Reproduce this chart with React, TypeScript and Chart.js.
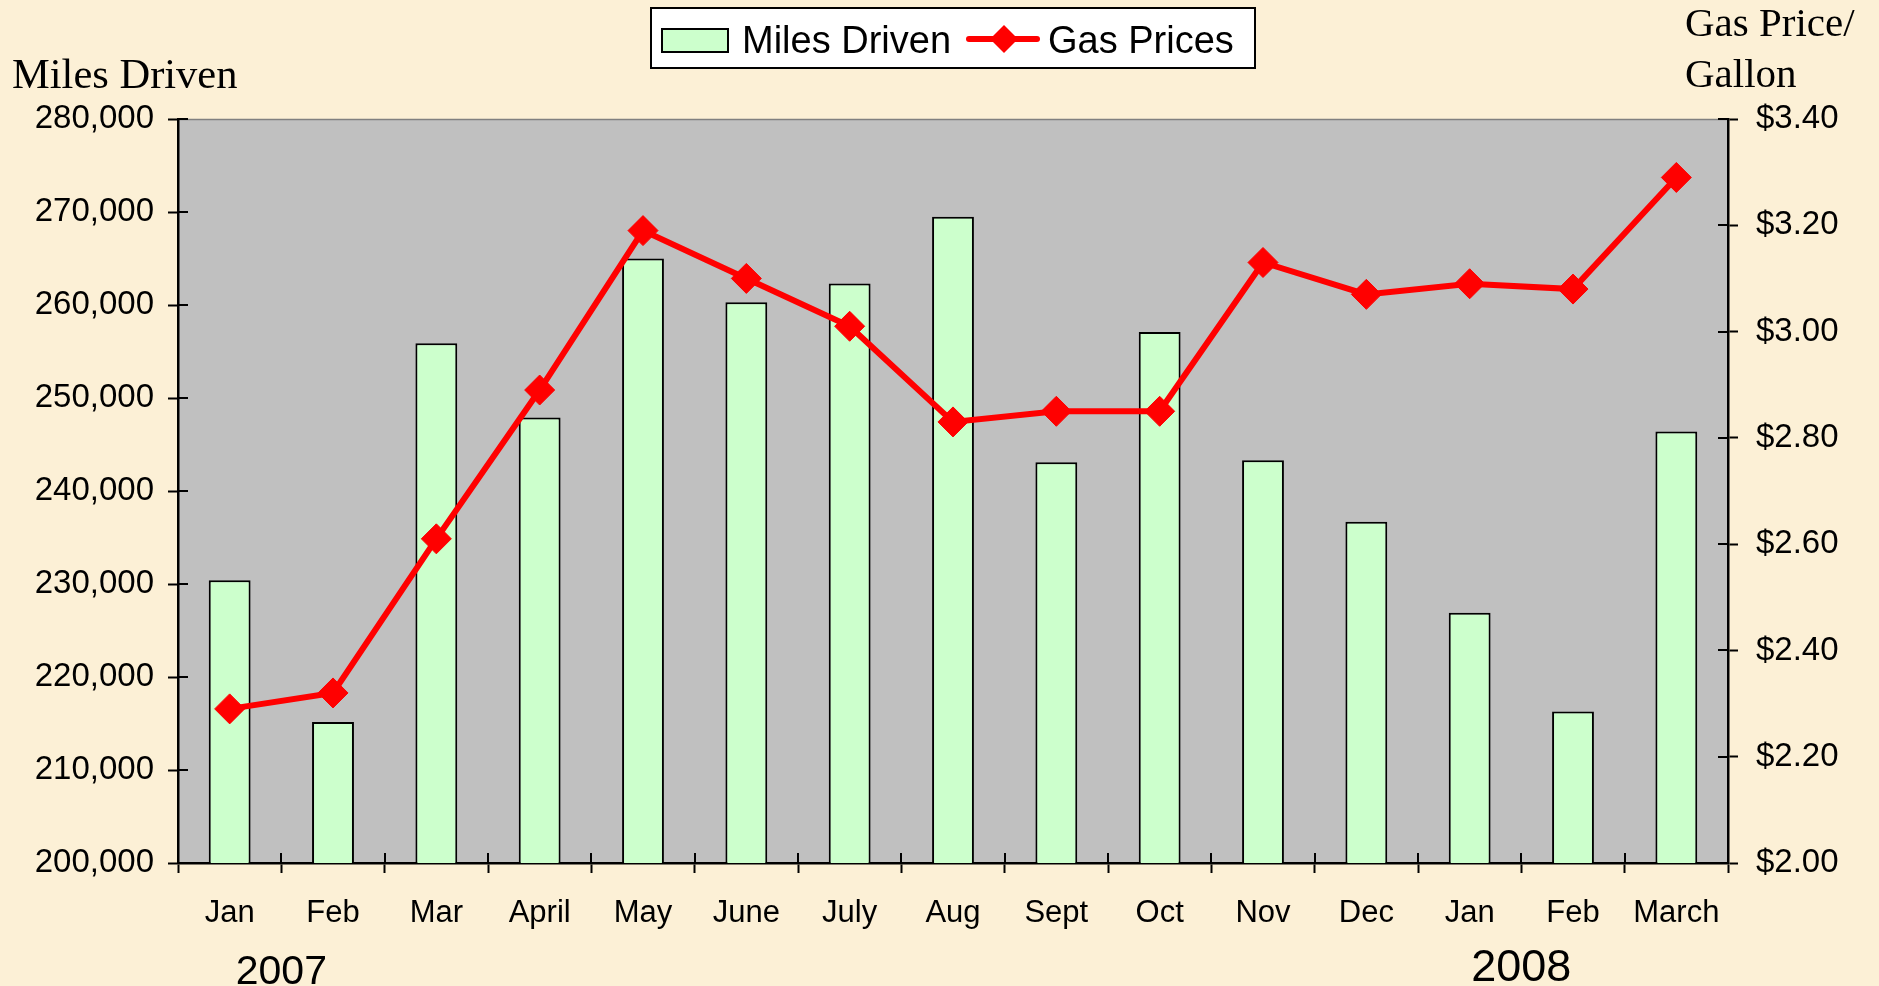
import React, { useEffect, useRef } from 'react';
import { Chart, registerables } from 'chart.js';

Chart.register(...registerables);

const months = ['Jan', 'Feb', 'Mar', 'April', 'May', 'June', 'July', 'Aug', 'Sept', 'Oct', 'Nov', 'Dec', 'Jan', 'Feb', 'March'];
const milesDriven = [230400, 215150, 255900, 247900, 265000, 260300, 262300, 269500, 243100, 257100, 243300, 236700, 226900, 216300, 246400];
const gasPrices = [2.29, 2.32, 2.61, 2.89, 3.19, 3.10, 3.01, 2.83, 2.85, 2.85, 3.13, 3.07, 3.09, 3.08, 3.29];
const yearLabels = ['2007', '2008'];
const yearAfterIndex = [0, 12];
const milesAxisRange = [200000, 280000, 10000];
const priceAxisRange = [2.0, 3.4, 0.2];
const leftTitle = ['Miles Driven'];
const rightTitle = ['Gas Price/', 'Gallon'];

const W = 1879;
const H = 986;
const SANS = '"Liberation Sans", Arial, sans-serif';
const SERIF = '"Liberation Serif", "Times New Roman", serif';
const BG = '#FCF0D6';
const PLOT = '#C0C0C0';
const BAR = '#CCFFCC';
const RED = '#FF0000';
const TICK = 10;

const decorPlugin = {
  id: 'decor',
  beforeDraw(chart: any) {
    const { ctx, chartArea } = chart;
    ctx.save();
    ctx.fillStyle = BG;
    ctx.fillRect(0, 0, chart.width, chart.height);
    ctx.fillStyle = PLOT;
    ctx.fillRect(chartArea.left, chartArea.top, chartArea.right - chartArea.left, chartArea.bottom - chartArea.top);
    ctx.strokeStyle = '#808080';
    ctx.lineWidth = 1.5;
    ctx.beginPath();
    ctx.moveTo(chartArea.left, chartArea.top + 0.5);
    ctx.lineTo(chartArea.right, chartArea.top + 0.5);
    ctx.stroke();
    ctx.restore();
  },
  afterDraw(chart: any) {
    const { ctx, chartArea } = chart;
    const { left, right, bottom } = chartArea;
    const xs = chart.scales.x;
    const yl = chart.scales.y;
    const yr = chart.scales.y1;
    ctx.save();
    // inner halves of tick marks
    ctx.strokeStyle = '#000';
    ctx.lineWidth = 2;
    ctx.beginPath();
    yl.ticks.forEach((_t: any, i: number) => {
      const p = Math.round(yl.getPixelForTick(i));
      ctx.moveTo(left, p);
      ctx.lineTo(left + TICK, p);
    });
    yr.ticks.forEach((_t: any, i: number) => {
      const p = Math.round(yr.getPixelForTick(i));
      ctx.moveTo(right - TICK, p);
      ctx.lineTo(right, p);
    });
    const n = months.length;
    const step = (xs.right - xs.left) / n;
    for (let k = 0; k <= n; k++) {
      const p = Math.round(xs.left + k * step);
      ctx.moveTo(p, bottom - TICK);
      ctx.lineTo(p, bottom);
    }
    ctx.stroke();

    // axis titles
    ctx.fillStyle = '#000';
    ctx.textBaseline = 'alphabetic';
    ctx.textAlign = 'left';
    ctx.font = `42.5px ${SERIF}`;
    ctx.fillText(leftTitle[0], 12, 88);
    ctx.font = `41px ${SERIF}`;
    ctx.fillText(rightTitle[0], 1685, 36);
    ctx.fillText(rightTitle[1], 1685, 87);

    // year labels
    ctx.textAlign = 'center';
    yearLabels.forEach((lab, i) => {
      const idx = yearAfterIndex[i];
      const p = xs.left + (idx + 1) * step;
      ctx.font = `${i === 0 ? 41 : 45}px ${SANS}`;
      ctx.fillText(lab, p, i === 0 ? 984 : 981);
    });

    // legend
    const dsAll = chart.data.datasets;
    const barDs = dsAll.find((d: any) => d.type === 'bar');
    const lineDs = dsAll.find((d: any) => d.type === 'line');
    const bx = 651, by = 8, bw = 604, bh = 60;
    ctx.fillStyle = '#FFFFFF';
    ctx.fillRect(bx, by, bw, bh);
    ctx.strokeStyle = '#000';
    ctx.lineWidth = 2;
    ctx.strokeRect(bx, by, bw, bh);
    ctx.fillStyle = barDs.backgroundColor;
    ctx.fillRect(662, 29, 66, 23);
    ctx.lineWidth = 2;
    ctx.strokeRect(662, 29, 66, 23);
    ctx.font = `38px ${SANS}`;
    ctx.textAlign = 'left';
    ctx.fillStyle = '#000';
    ctx.fillText(barDs.label, 742, 53);
    ctx.strokeStyle = lineDs.borderColor;
    ctx.lineWidth = 6;
    ctx.lineCap = 'round';
    ctx.beginPath();
    ctx.moveTo(969, 39);
    ctx.lineTo(1037, 39);
    ctx.stroke();
    ctx.fillStyle = lineDs.borderColor;
    ctx.beginPath();
    ctx.moveTo(1004, 25);
    ctx.lineTo(1018, 39);
    ctx.lineTo(1004, 53);
    ctx.lineTo(990, 39);
    ctx.closePath();
    ctx.fill();
    ctx.fillStyle = '#000';
    ctx.fillText(lineDs.label, 1048, 53);
    ctx.restore();
  },
};

export default function App() {
  const canvasRef = useRef<HTMLCanvasElement | null>(null);

  useEffect(() => {
    const canvas = canvasRef.current;
    if (!canvas) return;
    const chart = new Chart(canvas, {
      type: 'bar',
      data: {
        labels: months,
        datasets: [
          {
            type: 'line',
            label: 'Gas Prices',
            data: gasPrices,
            yAxisID: 'y1',
            borderColor: RED,
            backgroundColor: RED,
            borderWidth: 6,
            pointStyle: 'rectRot',
            pointRadius: 15,
            pointBorderWidth: 1,
            pointBackgroundColor: RED,
            pointBorderColor: RED,
            tension: 0,
            order: 0,
          } as any,
          {
            type: 'bar',
            label: 'Miles Driven',
            data: milesDriven,
            yAxisID: 'y',
            backgroundColor: BAR,
            borderColor: '#000000',
            borderWidth: 2,
            categoryPercentage: 1,
            barPercentage: 0.405,
            order: 1,
          } as any,
        ],
      },
      options: {
        responsive: false,
        devicePixelRatio: 1,
        animation: false,
        layout: { padding: { top: 119, left: 0, right: 0, bottom: 0 } },
        plugins: {
          legend: { display: false },
          tooltip: { enabled: false },
          title: { display: false },
        },
        scales: {
          x: {
            offset: true,
            grid: {
              offset: true,
              drawOnChartArea: false,
              drawTicks: true,
              tickLength: TICK,
              tickWidth: 2,
              tickColor: '#000',
            },
            border: { display: true, color: '#000', width: 2.5 },
            ticks: {
              color: '#000',
              font: { family: SANS, size: 31 },
              padding: 22,
              maxRotation: 0,
              autoSkip: false,
            },
            afterFit(scale: any) {
              scale.height = 123;
            },
          },
          y: {
            position: 'left',
            min: milesAxisRange[0],
            max: milesAxisRange[1],
            grid: {
              drawOnChartArea: false,
              tickLength: TICK,
              tickWidth: 2,
              tickColor: '#000',
            },
            border: { display: true, color: '#000', width: 2.5 },
            ticks: {
              stepSize: milesAxisRange[2],
              color: '#000',
              font: { family: SANS, size: 33 },
              padding: 14,
              callback: (v: any) => Number(v).toLocaleString('en-US'),
            },
            afterFit(scale: any) {
              scale.width = 178;
            },
          },
          y1: {
            position: 'right',
            min: priceAxisRange[0],
            max: priceAxisRange[1],
            grid: {
              drawOnChartArea: false,
              tickLength: TICK,
              tickWidth: 2,
              tickColor: '#000',
            },
            border: { display: true, color: '#000', width: 2.5 },
            ticks: {
              stepSize: priceAxisRange[2],
              color: '#000',
              font: { family: SANS, size: 33 },
              padding: 18,
              callback: (v: any) => '$' + Number(v).toFixed(2),
            },
            afterFit(scale: any) {
              scale.width = W - 1728;
            },
          },
        },
      },
      plugins: [decorPlugin],
    });
    return () => chart.destroy();
  }, []);

  return (
    <div style={{ position: 'fixed', left: 0, top: 0, width: W, height: H, overflow: 'hidden' }}>
      <canvas ref={canvasRef} width={W} height={H} style={{ display: 'block', width: W, height: H }} />
    </div>
  );
}
